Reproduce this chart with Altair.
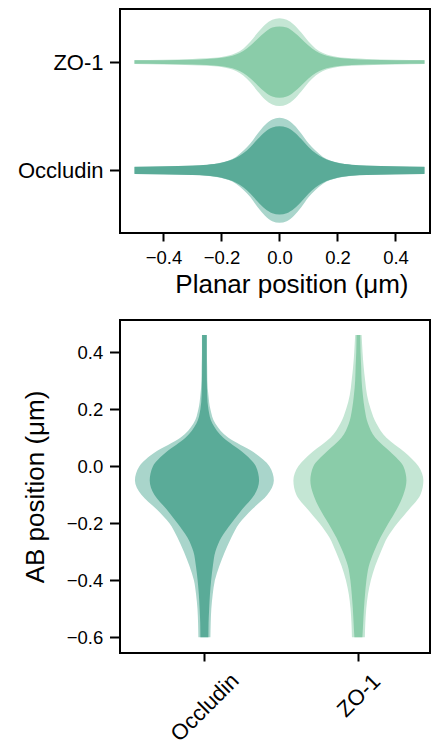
import altair as alt
import pandas as pd

FONT = "Liberation Sans"

# ---------------- top panel (planar position) ----------------
planar_pos = [-0.5, -0.4, -0.3, -0.25, -0.2, -0.15, -0.125, -0.1, -0.075, -0.05, -0.025, 0.0,
              0.025, 0.05, 0.075, 0.1, 0.125, 0.15, 0.2, 0.25, 0.3, 0.4, 0.5]
# violin half-widths (category units)
zo1_planar_outer = [0.018, 0.022, 0.029, 0.034, 0.046, 0.083, 0.124, 0.189, 0.272, 0.345, 0.391, 0.405,
                    0.391, 0.345, 0.272, 0.189, 0.124, 0.083, 0.046, 0.034, 0.029, 0.022, 0.018]
zo1_planar_inner = [0.016, 0.017, 0.022, 0.028, 0.039, 0.069, 0.101, 0.152, 0.216, 0.276, 0.318, 0.329,
                    0.318, 0.276, 0.216, 0.152, 0.101, 0.069, 0.039, 0.028, 0.022, 0.017, 0.016]
occ_planar_outer = [0.030, 0.034, 0.041, 0.050, 0.072, 0.124, 0.180, 0.249, 0.341, 0.419, 0.470, 0.485,
                    0.470, 0.419, 0.341, 0.249, 0.180, 0.124, 0.072, 0.050, 0.041, 0.034, 0.030]
occ_planar_inner = [0.034, 0.038, 0.044, 0.051, 0.069, 0.115, 0.157, 0.216, 0.290, 0.355, 0.396, 0.408,
                    0.396, 0.355, 0.290, 0.216, 0.157, 0.115, 0.069, 0.051, 0.044, 0.038, 0.034]

# ---------------- bottom panel (AB position) ----------------
ab_pos = [0.46, 0.40, 0.35, 0.30, 0.25, 0.20, 0.15, 0.10, 0.05, 0.00, -0.05, -0.10, -0.15,
          -0.20, -0.25, -0.30, -0.35, -0.40, -0.45, -0.50, -0.55, -0.60]
occ_ab_outer = [0.016, 0.016, 0.018, 0.019, 0.026, 0.039, 0.071, 0.156, 0.318, 0.422, 0.451, 0.409,
                0.312, 0.227, 0.175, 0.133, 0.097, 0.068, 0.054, 0.045, 0.041, 0.039]
occ_ab_inner = [0.015, 0.015, 0.015, 0.016, 0.018, 0.026, 0.052, 0.123, 0.247, 0.334, 0.355, 0.325,
                0.247, 0.175, 0.110, 0.071, 0.055, 0.044, 0.036, 0.031, 0.027, 0.026]
zo1_ab_outer = [0.021, 0.027, 0.034, 0.044, 0.056, 0.080, 0.117, 0.182, 0.299, 0.390, 0.422, 0.403,
                0.331, 0.253, 0.188, 0.146, 0.109, 0.081, 0.062, 0.051, 0.045, 0.042]
zo1_ab_inner = [0.012, 0.014, 0.018, 0.021, 0.029, 0.041, 0.062, 0.110, 0.208, 0.292, 0.312, 0.292,
                0.250, 0.195, 0.143, 0.101, 0.068, 0.052, 0.043, 0.036, 0.031, 0.026]

top_order = ["ZO-1", "Occludin"]      # top to bottom
bottom_order = ["Occludin", "ZO-1"]   # left to right

keys = ["Occludin outer", "Occludin inner", "ZO-1 outer", "ZO-1 inner"]
colors = ["#a9d5cb", "#5aab98", "#c4e6d4", "#8acca9"]
color_scale = alt.Scale(domain=keys, range=colors)


def build(pos, series, order):
    frames = []
    for (prot, layer), half in series.items():
        frames.append(pd.DataFrame({
            "pos": pos, "half": half, "protein": prot, "layer": layer,
            "key": f"{prot} {layer}", "center": order.index(prot)}))
    return pd.concat(frames, ignore_index=True)


df_top = build(planar_pos, {("ZO-1", "outer"): zo1_planar_outer, ("ZO-1", "inner"): zo1_planar_inner,
                            ("Occludin", "outer"): occ_planar_outer, ("Occludin", "inner"): occ_planar_inner},
               top_order)
df_bot = build(ab_pos, {("Occludin", "outer"): occ_ab_outer, ("Occludin", "inner"): occ_ab_inner,
                        ("ZO-1", "outer"): zo1_ab_outer, ("ZO-1", "inner"): zo1_ab_inner},
               bottom_order)

top_x_axis = alt.Axis(values=[-0.4, -0.2, 0, 0.2, 0.4], format=".1f", title="Planar position (μm)",
                      titleX=171.4, titleFontSize=26, labelFontSize=18.5, tickSize=8, labelPadding=7,
                      titlePadding=5, grid=False, domain=False)
top_y_axis = alt.Axis(values=[0, 1], labelExpr="datum.value == 0 ? 'ZO-1' : 'Occludin'", title=None,
                      labelFontSize=22, tickSize=10.5, labelPadding=6.5, grid=False, domain=False)


def top_layer(layer):
    return alt.Chart(df_top).transform_filter(alt.datum.layer == layer).transform_calculate(
        lo="datum.center - datum.half", hi="datum.center + datum.half"
    ).mark_area(interpolate="monotone", orient="vertical").encode(
        x=alt.X("pos:Q", scale=alt.Scale(domain=[-0.55, 0.519], nice=False, zero=False), axis=top_x_axis),
        y=alt.Y("lo:Q", scale=alt.Scale(domain=[-0.49, 1.579], reverse=True, nice=False, zero=False),
                axis=top_y_axis),
        y2="hi:Q",
        color=alt.Color("key:N", scale=color_scale, legend=None),
    )


bot_x_axis = alt.Axis(values=[0, 1], labelExpr="datum.value == 0 ? 'Occludin' : 'ZO-1'", title=None,
                      labelAngle=315, labelAlign="center", labelBaseline="middle", labelFontSize=22,
                      labelPadding={"condition": {"test": "datum.value == 0", "value": 46}, "value": 34},
                      tickSize=8, grid=False, domain=False)
bot_y_axis = alt.Axis(values=[-0.6, -0.4, -0.2, 0, 0.2, 0.4], format=".1f", title="AB position (μm)",
                      titleFontSize=26, labelFontSize=18.5, tickSize=10.5, labelPadding=6.8, titlePadding=18,
                      grid=False, domain=False)


def bot_layer(layer):
    return alt.Chart(df_bot).transform_filter(alt.datum.layer == layer).transform_calculate(
        lo="datum.center - datum.half", hi="datum.center + datum.half"
    ).mark_area(interpolate="monotone", orient="horizontal").encode(
        y=alt.Y("pos:Q", scale=alt.Scale(domain=[-0.655, 0.513], nice=False, zero=False), axis=bot_y_axis),
        x=alt.X("lo:Q", scale=alt.Scale(domain=[-0.548, 1.465], nice=False, zero=False), axis=bot_x_axis),
        x2="hi:Q",
        color=alt.Color("key:N", scale=color_scale, legend=None),
    )


top = alt.layer(top_layer("outer"), top_layer("inner")).properties(width=310, height=224)
bottom = alt.layer(bot_layer("outer"), bot_layer("inner")).properties(width=310, height=333)

chart = alt.vconcat(top, bottom, spacing=87, bounds="flush").properties(
    padding={"left": 8, "top": 0, "right": 0, "bottom": 0}
).configure_axis(
    labelFont=FONT, titleFont=FONT, labelColor="black", titleColor="black",
    tickColor="black", tickWidth=2, titleFontWeight="normal"
).configure_view(stroke="black", strokeWidth=2)

chart.save("out.html", embed_options={"renderer": "svg", "actions": False})
